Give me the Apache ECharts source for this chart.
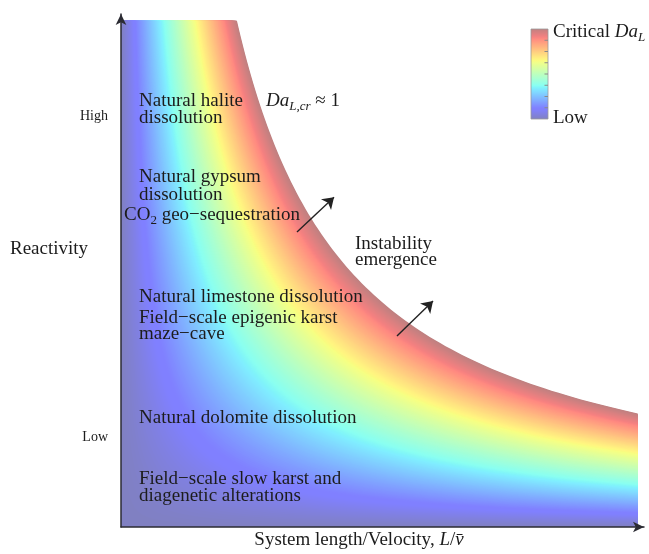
<!DOCTYPE html>
<html>
<head>
<meta charset="utf-8">
<script src="https://cdn.jsdelivr.net/npm/echarts@6/dist/echarts.min.js"></script>
<style>html,body{margin:0;padding:0;background:#fff;}#c{width:649px;height:554px;}</style>
</head>
<body>
<div id="c"></div>
<script>
// ---------------- data ----------------
// axes are in normalised units (0..1)
const systemLengthMax = 0.988;   // right end of shaded domain (L/v)
const reactivityMax = 0.987;     // top end of shaded domain
const daCritical = 0.2188;       // Da_L,cr ~ 1 : reactivity * L/v at the critical curve
const reactivityTickValues = [0.174, 0.801];
const reactivityTickLabels = ['Low', 'High'];
const arrowStarts = [[0.3365, 0.575], [0.5277, 0.3723]];
const arrowEnds = [[0.4073, 0.643], [0.5966, 0.4405]];
const colorbarTickCount = 7;

// ---------------- colormap (jet, 50% over white) ----------------
const JET = {
  r: [[0, 0], [0.35, 0], [0.66, 1], [0.89, 1], [1, 0.5]],
  g: [[0, 0], [0.125, 0], [0.375, 1], [0.64, 1], [0.91, 0], [1, 0]],
  b: [[0, 0.5], [0.11, 1], [0.34, 1], [0.65, 0], [1, 0]]
};
function seg(arr, t) {
  for (let i = 1; i < arr.length; i++) {
    if (t <= arr[i][0]) {
      const a = arr[i - 1], b = arr[i];
      return a[1] + (b[1] - a[1]) * (t - a[0]) / (b[0] - a[0]);
    }
  }
  return arr[arr.length - 1][1];
}
function cmap(t) {
  t = Math.max(0, Math.min(1, t));
  const f = v => Math.round(255 * (0.5 * v + 0.5));
  return 'rgb(' + f(seg(JET.r, t)) + ',' + f(seg(JET.g, t)) + ',' + f(seg(JET.b, t)) + ')';
}

// shading levels (fraction of critical Da), drawn outer to inner
const N_LEVELS = 220;
const levels = [];
for (let i = N_LEVELS; i >= 1; i--) levels.push([i / N_LEVELS]);

// ---------------- text helpers ----------------
const FONT = '"Liberation Serif", "Times New Roman", serif';
const TXT = '#1c1c1c';
const ctx = document.createElement('canvas').getContext('2d');
function measure(text, size, italic) {
  ctx.font = (italic ? 'italic ' : '') + size + 'px ' + FONT;
  return ctx.measureText(text).width;
}
// segs: [text, kind]  kind: r roman, i italic, s italic subscript, sr roman subscript
function run(x, y, segs, size, align) {
  size = size || 19;
  const parts = segs.map(([t, k]) => {
    const sub = (k === 's' || k === 'sr');
    const it = (k === 'i' || k === 's');
    const sz = sub ? Math.round(size * 0.7) : size;
    return { t, it, sz, dy: sub ? size * 0.28 : 0, w: measure(t, sz, it) };
  });
  const total = parts.reduce((s, p) => s + p.w, 0);
  let cx = align === 'center' ? x - total / 2 : (align === 'right' ? x - total : x);
  const els = [];
  parts.forEach(p => {
    els.push({
      type: 'text', x: cx, y: y + p.dy, z: 100, silent: true,
      style: {
        text: p.t, fontSize: p.sz, fontFamily: FONT, fontStyle: p.it ? 'italic' : 'normal',
        fill: TXT, align: 'left', verticalAlign: 'middle'
      }
    });
    cx += p.w;
  });
  return els;
}

// ---------------- graphics ----------------
const graphics = [];
const add = a => a.forEach(e => graphics.push(e));
add(run(139, 101, [['Natural halite', 'r']]));
add(run(139, 118, [['dissolution', 'r']]));
add(run(266, 101, [['Da', 'i'], ['L,cr', 's'], [' \u2248 1', 'r']]));
add(run(139, 177, [['Natural gypsum', 'r']]));
add(run(139, 195, [['dissolution', 'r']]));
add(run(124, 215, [['CO', 'r'], ['2', 'sr'], [' geo\u2212sequestration', 'r']]));
add(run(355, 244, [['Instability', 'r']]));
add(run(355, 260, [['emergence', 'r']]));
add(run(139, 297, [['Natural limestone dissolution', 'r']]));
add(run(139, 318, [['Field\u2212scale epigenic karst', 'r']]));
add(run(139, 334, [['maze\u2212cave', 'r']]));
add(run(139, 418, [['Natural dolomite dissolution', 'r']]));
add(run(139, 479, [['Field\u2212scale slow karst and', 'r']]));
add(run(139, 496, [['diagenetic alterations', 'r']]));
add(run(553, 32, [['Critical ', 'r'], ['Da', 'i'], ['L', 's']]));
add(run(553, 118, [['Low', 'r']]));
add(run(10, 249, [['Reactivity', 'r']]));
add(run(359, 540, [['System length/Velocity, ', 'r'], ['L', 'i'], ['/', 'r'], ['v\u0304', 'i']], 19, 'center'));

// colour bar
const cbX = 531, cbY = 29, cbW = 17, cbH = 90;
const cbStops = [];
for (let i = 0; i <= 40; i++) cbStops.push({ offset: i / 40, color: cmap(1 - i / 40) });
graphics.push({
  type: 'rect', z: 90, silent: true,
  shape: { x: cbX, y: cbY, width: cbW, height: cbH },
  style: { fill: new echarts.graphic.LinearGradient(0, 0, 0, 1, cbStops), stroke: '#9a9a9a', lineWidth: 0.8 }
});
for (let i = 1; i <= colorbarTickCount; i++) {
  const ty = cbY + cbH * i / (colorbarTickCount + 1);
  graphics.push({
    type: 'line', z: 91, silent: true,
    shape: { x1: cbX + cbW - 3.5, y1: ty, x2: cbX + cbW, y2: ty },
    style: { stroke: '#8a8a8a', lineWidth: 1 }
  });
}

// ---------------- chart ----------------
const chart = echarts.init(document.getElementById('c'), null, { renderer: 'canvas' });
const axisLine = {
  show: true, symbol: ['none', 'arrow'], symbolSize: [8, 11],
  lineStyle: { color: '#2b2b33', width: 1.5 }
};
chart.setOption({
  animation: false,
  backgroundColor: '#fff',
  grid: { left: 121, right: 5, top: 14, bottom: 27 },
  xAxis: {
    type: 'value', min: 0, max: 1, z: 10,
    axisLine: axisLine, axisTick: { show: false }, axisLabel: { show: false }, splitLine: { show: false }
  },
  yAxis: {
    type: 'value', min: 0, max: 1, z: 10,
    axisLine: axisLine, axisTick: { show: false }, splitLine: { show: false },
    axisLabel: {
      show: true, customValues: reactivityTickValues, margin: 13,
      fontFamily: FONT, fontSize: 14, color: TXT,
      formatter: v => {
        let best = 0;
        reactivityTickValues.forEach((tv, i) => { if (Math.abs(tv - v) < Math.abs(reactivityTickValues[best] - v)) best = i; });
        return reactivityTickLabels[best];
      }
    }
  },
  series: [
    {
      type: 'custom', coordinateSystem: 'cartesian2d', silent: true, z: 2,
      data: levels,
      renderItem: function (params, api) {
        const t = api.value(0);
        const k = t * daCritical;
        const pts = [api.coord([0, 0]), api.coord([0, reactivityMax])];
        const x0 = k / reactivityMax;
        const n = 90;
        for (let i = 0; i <= n; i++) {
          const x = x0 * Math.pow(systemLengthMax / x0, i / n);
          pts.push(api.coord([x, k / x]));
        }
        pts.push(api.coord([systemLengthMax, 0]));
        return { type: 'polygon', shape: { points: pts }, style: { fill: cmap(t) } };
      }
    },
    {
      type: 'lines', coordinateSystem: 'cartesian2d', z: 5, silent: true,
      symbol: ['none', 'arrow'], symbolSize: [0, 11],
      lineStyle: { color: '#222', width: 1.4, opacity: 1 },
      data: arrowStarts.map((s, i) => ({ coords: [s, arrowEnds[i]] }))
    }
  ],
  graphic: graphics
});
</script>
</body>
</html>
